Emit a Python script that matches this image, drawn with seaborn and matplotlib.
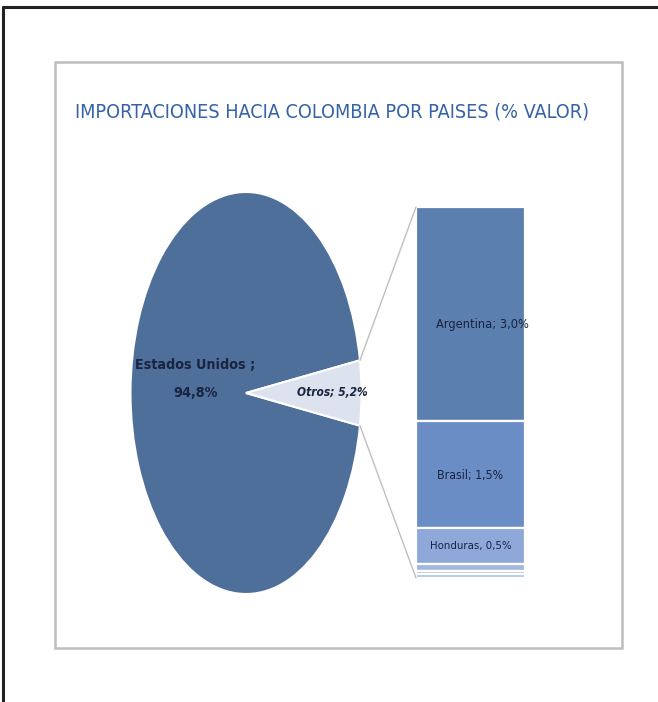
import matplotlib
matplotlib.use("Agg")
import matplotlib.pyplot as plt
import seaborn as sns
from matplotlib.patches import Rectangle, ConnectionPatch
from matplotlib.lines import Line2D
import numpy as np

sns.set_theme(style="white")
plt.rcParams['font.family'] = ['DejaVu Sans']
plt.rcParams['font.stretch'] = 'condensed'

# ---- data ----
title = "IMPORTACIONES HACIA COLOMBIA POR PAISES (% VALOR)"
pie_labels = ["Estados Unidos ;\n94,8%", "Otros; 5,2%"]
pie_values = [94.8, 5.2]
bar_labels = ["Argentina; 3,0%", "Brasil; 1,5%", "Honduras, 0,5%", "", "", ""]
bar_values = [3.0, 1.5, 0.5, 0.1, 0.05, 0.05]

pie_colors = ["#4F6F9B", "#DCE3EE"]
bar_colors = ["#5B7FAF", "#6A8DC6", "#8DA8D9", "#A2B7E0", "#A9BDE2", "#B3C5E6"]
txt_color = "#1A2440"

W, H = 658, 702
fig = plt.figure(figsize=(W / 100, H / 100), dpi=100)
fig.patch.set_facecolor("white")

def fx(px):
    return px / W

def fy(py):
    return 1 - py / H

# outer frame (top and left black lines)
fig.add_artist(Line2D([fx(3), 1], [fy(7), fy(7)], color="#222222", lw=2.2))
fig.add_artist(Line2D([fx(3), fx(3)], [fy(7), 0], color="#222222", lw=2.2))
# inner chart frame
fig.add_artist(Rectangle((fx(55), fy(648)), fx(622) - fx(55), fy(62) - fy(648),
                         fill=False, edgecolor="#BDBDBD", lw=1.8))

fig.text(fx(332), fy(112), title, ha="center", va="center",
         fontsize=14.2, color="#3563A8")

# ---- pie ----
cx, cy, rx, ry = 246, 393, 115.5, 201
ax_pie = fig.add_axes([fx(cx - rx), fy(cy + ry), 2 * rx / W, 2 * ry / H])
half = 360 * pie_values[1] / sum(pie_values) / 2
wedges, _ = ax_pie.pie(pie_values, colors=pie_colors, startangle=half,
                       counterclock=True, radius=1,
                       wedgeprops=dict(edgecolor="white", linewidth=1.5))
ax_pie.set_aspect("auto")
ax_pie.set_xlim(-1, 1)
ax_pie.set_ylim(-1, 1)
ax_pie.axis("off")
ax_pie.text(-0.44, 0.07, pie_labels[0], ha="center", va="center",
            fontsize=10.3, fontweight="bold", color=txt_color, linespacing=2.2)
ax_pie.text(0.745, 0.0, pie_labels[1], ha="center", va="center",
            fontsize=8.6, fontweight="bold", fontstyle="italic", color=txt_color)

# ---- bar of pie ----
ax_bar = fig.add_axes([fx(416), fy(578), fx(525) - fx(416), fy(207) - fy(578)])
total = sum(bar_values)
bottom = total
for lab, val, col in zip(bar_labels, bar_values, bar_colors):
    bottom -= val
    ax_bar.bar(0, val, bottom=bottom, width=1, color=col,
               edgecolor="white", linewidth=1.6)
ax_bar.set_xlim(-0.5, 0.5)
ax_bar.set_ylim(0, total)
ax_bar.axis("off")
label_dx = [0.105, 0.0, 0.0]
label_dy = [-0.14, -0.02, 0.0]
label_fs = [9.2, 8.8, 8.2]
bottom = total
for i, (lab, val) in enumerate(zip(bar_labels, bar_values)):
    bottom -= val
    if lab:
        ax_bar.text(label_dx[i], bottom + val / 2 + label_dy[i], lab,
                    ha="center", va="center", fontsize=label_fs[i],
                    color=txt_color, clip_on=False)

# connector lines
t1 = np.deg2rad(half)
for sgn, yb in [(1, total), (-1, 0)]:
    con = ConnectionPatch(xyA=(np.cos(t1), sgn * np.sin(t1)), coordsA=ax_pie.transData,
                          xyB=(-0.5, yb), coordsB=ax_bar.transData,
                          color="#BFBFBF", lw=1.0)
    fig.add_artist(con)

fig.savefig("out.png", dpi=100, facecolor="white")
